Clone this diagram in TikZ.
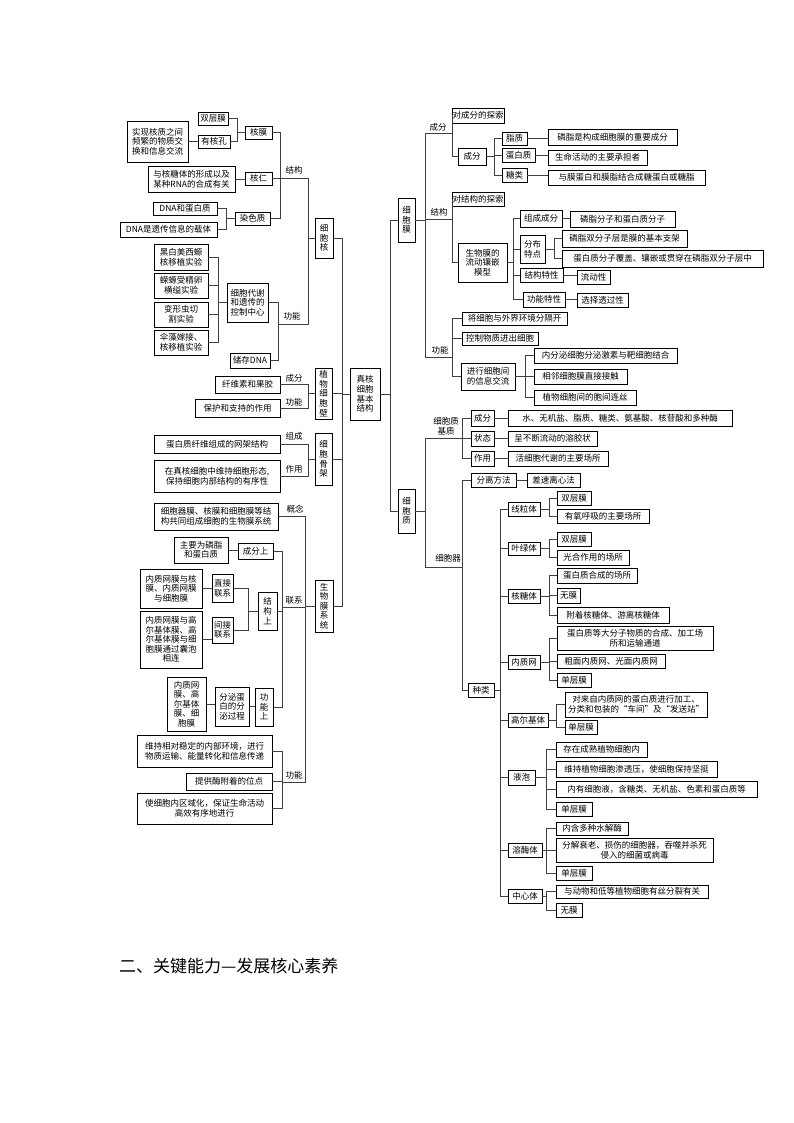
\documentclass[tikz,border=0pt]{standalone}
\usepackage{fontspec}
\setmainfont{Noto Sans CJK SC}
\tikzset{bx/.style={draw=black,line width=0.7pt,inner sep=0.5pt,align=center,font=\fontsize{8.5}{9.6}\selectfont},
 lb/.style={font=\fontsize{8.5}{9.6}\selectfont,inner sep=0pt,align=center},
 ln/.style={draw=black!75,line width=0.8pt}}
\newcommand\B[6]{\node[bx,minimum width={(#4-#2)*1pt},minimum height={(#5-#3)*1pt}] (#1) at ({(#2+#4)/2},{(#3+#5)/2}) {#6};}
\newcommand\C[3]{\draw[ln] (#1) -- (#1 -| #2) |- (#3);}
\begin{document}
\begin{tikzpicture}[x=1pt,y=-1pt]
\useasboundingbox[fill=white] (0,0) rectangle (794,1123);
\foreach \v in {218,226,237,248,278,280,282,305,308,342,390,425,452,462,494,500,513,525,546,549,554,556}{\coordinate (X\v) at (\v,0);}
% ---- nucleus
\B{n1}{198}{112}{228}{125}{双层膜}
\B{n2}{198}{135}{230}{148}{有核孔}
\B{n3}{127}{121}{188}{162}{实现核质之间\\频繁的物质交\\换和信息交流}
\B{hm}{245}{126}{272}{139}{核膜}
\B{n4}{148}{166}{235}{192}{与核糖体的形成以及\\某种RNA的合成有关}
\B{hr}{245}{172}{272}{185}{核仁}
\B{n5}{153}{202}{217}{215}{DNA和蛋白质}
\B{n6}{120}{222}{217}{237}{DNA是遗传信息的载体}
\B{rs}{235}{212}{270}{225}{染色质}
\B{xbh}{315}{218}{333}{258}{细\\胞\\核}
\B{e1}{154}{244}{208}{270}{黑白美西螈\\核移植实验}
\B{e2}{154}{273}{208}{298}{蝾螈受精卵\\横缢实验}
\B{e3}{154}{302}{208}{327}{变形虫切\\割实验}
\B{e4}{154}{330}{208}{355}{伞藻嫁接、\\核移植实验}
\B{kz}{227}{283}{268}{322}{细胞代谢\\和遗传的\\控制中心}
\B{cd}{230}{353}{270}{368}{储存DNA}
\coordinate (jS) at (280,178);
\coordinate (jF) at (278,324);
\draw[ln] (n3.east) -- (n3.east -| n2.west);
\C{n1.east}{X237}{hm.west}
\C{n2.east}{X237}{hm.west}
\draw[ln] (n4.east) -- (n4.east -| hr.west);
\C{n5.east}{X226}{rs.west}
\C{n6.east}{X226}{rs.west}
\C{hm.east}{jS}{jS}
\C{hr.east}{jS}{jS}
\C{rs.east}{jS}{jS}
\C{jS}{X308}{xbh.west}
\C{e1.east}{X218}{kz.west}
\C{e2.east}{X218}{kz.west}
\C{e3.east}{X218}{kz.west}
\C{e4.east}{X218}{kz.west}
\C{kz.east}{jF}{jF}
\C{cd.east}{jF}{jF}
\C{jF}{X308}{xbh.west}
\node[lb] at (294,170) {结构};
\node[lb] at (292,316) {功能};
% ---- center
\B{zh}{350}{368}{380}{420}{真核\\细胞\\基本\\结构}
\C{xbh.east}{X342}{zh.west}
% ---- cell wall
\B{xw1}{215}{376}{280}{393}{纤维素和果胶}
\B{xw2}{195}{399}{280}{417}{保护和支持的作用}
\B{bw}{315}{368}{332}{419}{植\\物\\细\\胞\\壁}
\C{xw1.east}{X308}{bw.west}
\C{xw2.east}{X308}{bw.west}
\C{bw.east}{X342}{zh.west}
\node[lb] at (294,378) {成分};
\node[lb] at (294,402) {功能};
% ---- cytoskeleton
\B{gj1}{154}{435}{280}{453}{蛋白质纤维组成的网架结构}
\B{gj2}{154}{460}{280}{492}{在真核细胞中维持细胞形态,\\保持细胞内部结构的有序性}
\B{gj}{315}{433}{332}{485}{细\\胞\\骨\\架}
\C{gj1.east}{X308}{gj.west}
\C{gj2.east}{X308}{gj.west}
\C{gj.east}{X342}{zh.west}
\node[lb] at (294,436) {组成};
\node[lb] at (294,469) {作用};
% ---- membrane system
\B{sm}{315}{580}{333}{632}{生\\物\\膜\\系\\统}
\C{sm.east}{X342}{zh.west}
\B{gn}{154}{503}{278}{530}{细胞器膜、核膜和细胞膜等结\\构共同组成细胞的生物膜系统}
\C{gn.east}{X305}{sm.west}
\node[lb] at (295,509) {概念};
\B{cf1}{174}{537}{228}{563}{主要为磷脂\\和蛋白质}
\B{cfs}{238}{543}{273}{559}{成分上}
\draw[ln] (cf1.east) -- (cf1.east -| cfs.west);
\B{zj1}{140}{569}{202}{608}{内质网膜与核\\膜、内质网膜\\与细胞膜}
\B{zj}{212}{574}{233}{602}{直接\\联系}
\draw[ln] (zj1.east) -- (zj1.east -| zj.west);
\B{jj1}{140}{611}{202}{668}{内质网膜与高\\尔基体膜、高\\尔基体膜与细\\胞膜通过囊泡\\相连}
\B{jj}{212}{617}{233}{643}{间接\\联系}
\draw[ln] (jj1.east) -- (jj1.east -| jj.west);
\B{jg}{258}{592}{277}{630}{结\\构\\上}
\C{zj.east}{X248}{jg.west}
\C{jj.east}{X248}{jg.west}
\B{gn1}{167}{677}{206}{731}{内质网\\膜、高\\尔基体\\膜、细\\胞膜}
\B{fm}{215}{687}{249}{726}{分泌蛋\\白的分\\泌过程}
\B{gns}{255}{688}{273}{726}{功\\能\\上}
\draw[ln] (gn1.east) -- (gn1.east -| fm.west);
\draw[ln] (fm.east) -- (fm.east -| gns.west);
\coordinate (jL) at (282,607);
\C{cfs.east}{jL}{jL}
\C{jg.east}{jL}{jL}
\C{gns.east}{jL}{jL}
\C{jL}{X305}{sm.west}
\node[lb] at (294,600) {联系};
\B{g1}{137}{735}{272}{767}{维持相对稳定的内部环境，进行\\物质运输、能量转化和信息传递}
\B{g2}{186}{773}{272}{790}{提供酶附着的位点}
\B{g3}{137}{793}{272}{824}{使细胞内区域化，保证生命活动\\高效有序地进行}
\coordinate (jG) at (282,782);
\C{g1.east}{jG}{jG}
\C{g2.east}{jG}{jG}
\C{g3.east}{jG}{jG}
\C{jG}{X305}{sm.west}
\node[lb] at (294,775) {功能};
% ---- right: cell membrane
\B{xbm}{398}{198}{415}{242}{细\\胞\\膜}
\B{xbz}{398}{489}{415}{533}{细\\胞\\质}
\C{zh.east}{X390}{xbm.west}
\C{zh.east}{X390}{xbz.west}
\coordinate (jC) at (425,133);
\coordinate (jJ) at (425,219);
\coordinate (jN) at (425,357);
\draw[ln] (xbm.east) -- (xbm.east -| X425);
\draw[ln] (jC) -- (jN);
\node[lb] at (438,127) {成分};
\node[lb] at (439,212) {结构};
\node[lb] at (440,350) {功能};
\B{t1}{458}{108}{498}{123}{对成分的探索}
\B{cf}{458}{148}{486}{165}{成分}
\C{jC}{X452}{t1.west}
\C{jC}{X452}{cf.west}
\B{zz}{502}{132}{527}{145}{脂质}
\B{db}{502}{148}{535}{162}{蛋白质}
\B{tl}{502}{168}{527}{182}{糖类}
\C{cf.east}{X494}{zz.west}
\C{cf.east}{X494}{db.west}
\C{cf.east}{X494}{tl.west}
\B{r1}{548}{129}{677}{145}{磷脂是构成细胞膜的重要成分}
\B{r2}{548}{150}{647}{165}{生命活动的主要承担者}
\B{r3}{548}{170}{705}{185}{与膜蛋白和膜脂结合成糖蛋白或糖脂}
\draw[ln] (zz.east) -- (zz.east -| r1.west);
\draw[ln] (db.east) -- (db.east -| r2.west);
\draw[ln] (tl.east) -- (tl.east -| r3.west);
\B{t2}{458}{192}{498}{206}{对结构的探索}
\B{lm}{458}{243}{507}{282}{生物膜的\\流动镶嵌\\模型}
\C{jJ}{X452}{t2.west}
\C{jJ}{X452}{lm.west}
\B{zc}{520}{210}{562}{227}{组成成分}
\B{fb}{520}{235}{545}{263}{分布\\特点}
\B{jt}{520}{268}{563}{282}{结构特性}
\B{gt}{523}{292}{565}{307}{功能特性}
\C{lm.east}{X513}{zc.west}
\C{lm.east}{X513}{fb.west}
\C{lm.east}{X513}{jt.west}
\C{lm.east}{X513}{gt.west}
\B{s1}{570}{211}{675}{227}{磷脂分子和蛋白质分子}
\B{s2}{562}{230}{687}{247}{磷脂双分子层是膜的基本支架}
\B{s3}{562}{250}{763}{267}{蛋白质分子覆盖、镶嵌或贯穿在磷脂双分子层中}
\B{s4}{577}{270}{610}{284}{流动性}
\B{s5}{577}{293}{628}{307}{选择透过性}
\draw[ln] (zc.east) -- (zc.east -| s1.west);
\C{fb.east}{X554}{s2.west}
\C{fb.east}{X554}{s3.west}
\draw[ln] (jt.east) -- (jt.east -| s4.west);
\draw[ln] (gt.east) -- (gt.east -| s5.west);
\B{f1}{462}{312}{567}{325}{将细胞与外界环境分隔开}
\B{f2}{462}{332}{538}{345}{控制物质进出细胞}
\B{f3}{461}{363}{515}{390}{进行细胞间\\的信息交流}
\C{jN}{X452}{f1.west}
\C{jN}{X452}{f2.west}
\C{jN}{X452}{f3.west}
\B{h1}{534}{348}{677}{363}{内分泌细胞分泌激素与靶细胞结合}
\B{h2}{534}{369}{627}{384}{相邻细胞膜直接接触}
\B{h3}{534}{390}{636}{405}{植物细胞间的胞间连丝}
\C{f3.east}{X525}{h1.west}
\C{f3.east}{X525}{h2.west}
\C{f3.east}{X525}{h3.west}
% ---- cytoplasm
\coordinate (jM) at (425,438);
\coordinate (jQ) at (425,567);
\draw[ln] (jM) -- (jQ);
\draw[ln] (xbz.east) -- (xbz.east -| X425);
\node[lb] at (446,426) {细胞质\\基质};
\node[lb] at (448,558) {细胞器};
\B{cf2}{471}{410}{494}{426}{成分}
\B{zt}{471}{431}{494}{446}{状态}
\B{zy}{471}{451}{494}{466}{作用}
\C{jM}{X462}{cf2.west}
\C{jM}{X462}{zt.west}
\C{jM}{X462}{zy.west}
\B{w1}{508}{410}{732}{426}{水、无机盐、脂质、糖类、氨基酸、核苷酸和多种酶}
\B{w2}{508}{431}{597}{446}{呈不断流动的溶胶状}
\B{w3}{508}{451}{608}{466}{活细胞代谢的主要场所}
\draw[ln] (cf2.east) -- (cf2.east -| w1.west);
\draw[ln] (zt.east) -- (zt.east -| w2.west);
\draw[ln] (zy.east) -- (zy.east -| w3.west);
\B{fl}{471}{473}{516}{487}{分离方法}
\B{zl}{468}{683}{494}{697}{种类}
\C{jQ}{X462}{fl.west}
\C{jQ}{X462}{zl.west}
\B{cs}{527}{473}{580}{487}{差速离心法}
\draw[ln] (fl.east) -- (fl.east -| cs.west);
\B{xl}{508}{502}{540}{516}{线粒体}
\B{yl}{508}{542}{540}{555}{叶绿体}
\B{ht}{508}{589}{540}{603}{核糖体}
\B{nz}{508}{655}{540}{669}{内质网}
\B{ge}{508}{713}{548}{727}{高尔基体}
\B{yp}{508}{770}{535}{785}{液泡}
\B{rm}{508}{843}{542}{857}{溶酶体}
\B{zx}{508}{889}{542}{903}{中心体}
\foreach \o in {xl,yl,ht,nz,ge,yp,rm,zx}{\C{zl.east}{X500}{\o.west}}
\B{a1}{557}{491}{591}{505}{双层膜}
\B{a2}{557}{509}{649}{523}{有氧呼吸的主要场所}
\C{xl.east}{X549}{a1.west}
\C{xl.east}{X549}{a2.west}
\B{b1}{557}{532}{591}{546}{双层膜}
\B{b2}{557}{550}{629}{565}{光合作用的场所}
\C{yl.east}{X549}{b1.west}
\C{yl.east}{X549}{b2.west}
\B{c1}{557}{568}{637}{583}{蛋白质合成的场所}
\B{c2}{557}{588}{580}{603}{无膜}
\B{c3}{557}{607}{669}{623}{附着核糖体、游离核糖体}
\foreach \o in {c1,c2,c3}{\C{ht.east}{X549}{\o.west}}
\B{d1}{557}{626}{713}{650}{蛋白质等大分子物质的合成、加工场\\所和运输通道}
\B{d2}{557}{654}{665}{668}{粗面内质网、光面内质网}
\B{d3}{557}{673}{591}{687}{单层膜}
\foreach \o in {d1,d2,d3}{\C{nz.east}{X549}{\o.west}}
\B{g4}{565}{692}{707}{717}{对来自内质网的蛋白质进行加工、\\分类和包装的“车间”及“发送站”}
\B{g5}{565}{720}{597}{734}{单层膜}
\C{ge.east}{X556}{g4.west}
\C{ge.east}{X556}{g5.west}
\B{p1}{556}{742}{647}{757}{存在成熟植物细胞内}
\B{p2}{556}{761}{717}{777}{维持植物细胞渗透压，使细胞保持坚挺}
\B{p3}{556}{781}{757}{797}{内有细胞液，含糖类、无机盐、色素和蛋白质等}
\B{p4}{556}{802}{592}{816}{单层膜}
\foreach \o in {p1,p2,p3,p4}{\C{yp.east}{X546}{\o.west}}
\B{q1}{556}{822}{628}{835}{内含多种水解酶}
\B{q2}{556}{838}{713}{862}{分解衰老、损伤的细胞器，吞噬并杀死\\侵入的细菌或病毒}
\B{q3}{556}{866}{592}{880}{单层膜}
\foreach \o in {q1,q2,q3}{\C{rm.east}{X546}{\o.west}}
\B{u1}{556}{885}{708}{898}{与动物和低等植物细胞有丝分裂有关}
\B{u2}{556}{903}{582}{917}{无膜}
\C{zx.east}{X546}{u1.west}
\C{zx.east}{X546}{u2.west}
% ---- heading
\node[anchor=west,inner sep=0pt,font=\fontsize{17}{20}\selectfont] (hd) at (119,966) {二、关键能力—发展核心素养};
\end{tikzpicture}
\end{document}
